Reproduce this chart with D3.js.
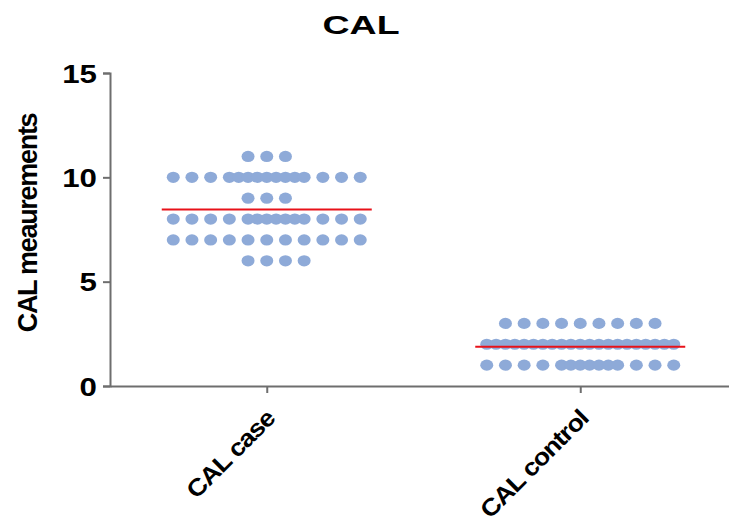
<!DOCTYPE html>
<meta charset="utf-8">
<style>
body { margin: 0; background: #fff; }
text { font-family: Arial, "Liberation Sans", Helvetica, sans-serif; font-weight: bold; fill: #000; }
</style>
<body>
<script src="https://d3js.org/d3.v7.min.js"></script>
<script>

var groups = ["CAL case", "CAL control"];

var caseValues = [
  11, 11, 11,
  10, 10, 10, 10, 10, 10, 10, 10, 10, 10, 10, 10, 10, 10, 10,
  9, 9, 9,
  8, 8, 8, 8, 8, 8, 8, 8, 8, 8, 8, 8, 8, 8,
  7, 7, 7, 7, 7, 7, 7, 7, 7, 7, 7,
  6, 6, 6, 6
];
var controlValues = [
  3, 3, 3, 3, 3, 3, 3, 3, 3,
  2, 2, 2, 2, 2, 2, 2, 2, 2, 2, 2, 2, 2, 2, 2, 2, 2, 2, 2, 2, 2,
  1, 1, 1, 1, 1, 1, 1, 1, 1, 1, 1, 1, 1, 1
];
var yTicks = [0, 5, 10, 15];

var width = 729,
    height = 527;

var svg = d3.select("body").append("svg")
    .attr("width", width)
    .attr("height", height);

var x = d3.scalePoint()
    .domain(groups)
    .range([110, 737])
    .padding(0.5);

var y = d3.scaleLinear()
    .domain([0, 15])
    .range([386, 73]);

var half = 9.35; // half of the dot pitch

// scatter-dot layout: up to 11 dots at full pitch, extra dots go into the half slots near the middle
function rowOffsets(n) {
  var out = [], i;
  if (n <= 11) {
    for (i = 0; i < n; i++) out.push(-(n - 1) + 2 * i + (n % 2 ? 0 : 1));
    return out;
  }
  for (i = -10; i <= 10; i += 2) out.push(i);
  var extra = n - 11, k = 1;
  while (extra > 0) {
    out.push(k); extra--;
    if (extra > 0) { out.push(-k); extra--; }
    k += 2;
  }
  return out.sort(d3.ascending);
}

function layout(group, values) {
  var pts = [];
  d3.groups(values, function(d) { return d; }).forEach(function(g) {
    rowOffsets(g[1].length).forEach(function(o) {
      pts.push({ group: group, value: g[0], off: o });
    });
  });
  return pts;
}

var data = [
  { group: groups[0], values: caseValues },
  { group: groups[1], values: controlValues }
];

var dots = [];
data.forEach(function(d) { dots = dots.concat(layout(d.group, d.values)); });

// axes
var yAxis = svg.append("g")
    .attr("transform", "translate(110,0)")
    .call(d3.axisLeft(y).tickValues(yTicks).tickSize(7).tickPadding(5));
yAxis.select(".domain").attr("stroke", "#6e6e6e").attr("stroke-width", 2);
yAxis.selectAll(".tick line").attr("stroke", "#6e6e6e").attr("stroke-width", 2);
yAxis.selectAll(".tick text")
    .style("font-size", "25px")
    .attr("x", 0).attr("dy", "0.36em")
    .attr("transform", "translate(-13,0) scale(1.25,1)");

var xAxis = svg.append("g")
    .attr("transform", "translate(0,386)")
    .call(d3.axisBottom(x).tickSize(7).tickSizeOuter(0));
xAxis.select(".domain").attr("stroke", "#6e6e6e").attr("stroke-width", 2);
xAxis.selectAll(".tick line").attr("stroke", "#6e6e6e").attr("stroke-width", 2);
xAxis.selectAll(".tick text")
    .style("font-size", "24px")
    .style("letter-spacing", "-1px")
    .attr("text-anchor", "end")
    .attr("x", 0).attr("y", 0).attr("dy", 0)
    .attr("transform", "translate(9,34) rotate(-45) scale(1.12,1)");

// dots
svg.append("g").selectAll("ellipse")
    .data(dots)
  .enter().append("ellipse")
    .attr("cx", function(d) { return x(d.group) + d.off * half; })
    .attr("cy", function(d) { return y(d.value); })
    .attr("rx", 6.5)
    .attr("ry", 5.6)
    .attr("fill", "#8eaad8");

// mean lines
svg.append("g").selectAll("line")
    .data(data)
  .enter().append("line")
    .attr("x1", function(d) { return x(d.group) - 105; })
    .attr("x2", function(d) { return x(d.group) + 105; })
    .attr("y1", function(d) { return y(d3.mean(d.values)); })
    .attr("y2", function(d) { return y(d3.mean(d.values)); })
    .attr("stroke", "#e8121a")
    .attr("stroke-width", 2);

// title and axis label
svg.append("text")
    .attr("transform", "translate(361,34) scale(1.5,1)")
    .attr("text-anchor", "middle")
    .style("font-size", "25px")
    .text("CAL");

svg.append("text")
    .attr("transform", "translate(37,223) rotate(-90)")
    .attr("text-anchor", "middle")
    .style("font-size", "27px")
    .style("letter-spacing", "-1.3px")
    .text("CAL meaurements");

</script>
